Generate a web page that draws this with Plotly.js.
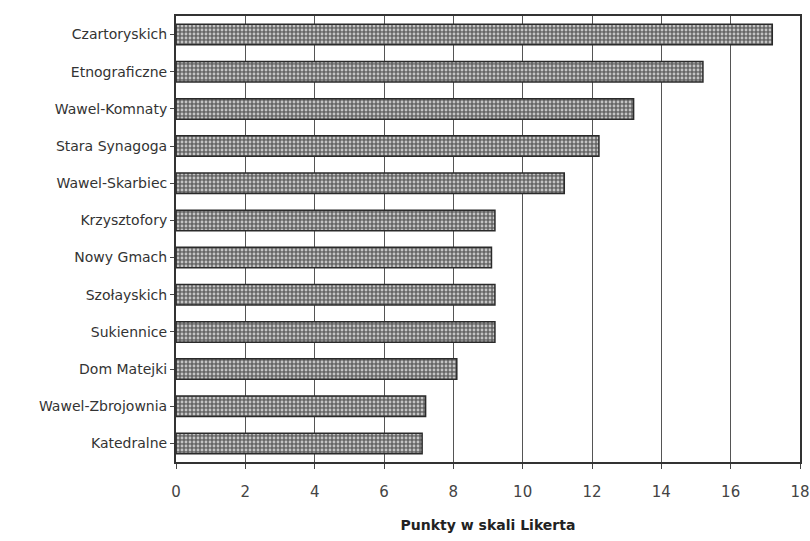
<!DOCTYPE html>
<html>
<head>
<meta charset="utf-8">
<script src="https://cdn.plot.ly/plotly-3.0.1.min.js"></script>
<style>html,body{margin:0;padding:0;background:#fff;}</style>
</head>
<body>
<div id="chart" style="width:810px;height:541px;"></div>
<script>
var categories = ["Czartoryskich","Etnograficzne","Wawel-Komnaty","Stara Synagoga","Wawel-Skarbiec","Krzysztofory","Nowy Gmach","Szołayskich","Sukiennice","Dom Matejki","Wawel-Zbrojownia","Katedralne"];
var values = [17.2, 15.2, 13.2, 12.2, 11.2, 9.2, 9.1, 9.2, 9.2, 8.1, 7.2, 7.1];
var tickVals = [0,2,4,6,8,10,12,14,16,18];

var trace = {
  type: 'bar',
  orientation: 'h',
  y: categories,
  x: values,
  marker: {
    color: '#7a7a7a',
    line: {color: '#2a2a2a', width: 1.5},
    pattern: {shape: '.', fgcolor: '#c4c4c4', bgcolor: '#666666', size: 4, solidity: 0.4}
  },
  hoverinfo: 'none'
};

var layout = {
  width: 810, height: 541,
  margin: {l: 176, r: 10, t: 16, b: 79},
  paper_bgcolor: '#ffffff',
  plot_bgcolor: '#ffffff',
  bargap: 0.45,
  showlegend: false,
  font: {family: 'DejaVu Sans, sans-serif', color: '#333'},
  xaxis: {
    range: [0, 18],
    tickvals: tickVals,
    ticktext: tickVals.map(String),
    tickfont: {size: 15, color: '#444', family: 'DejaVu Sans, sans-serif'},
    ticks: 'outside', ticklen: 5, tickcolor: '#444',
    ticklabelstandoff: 10,
    showgrid: true, gridcolor: '#555', gridwidth: 1,
    showline: true, linecolor: '#333', linewidth: 2, mirror: true,
    zeroline: false,
    title: {text: 'Punkty w skali Likerta', font: {size: 14, color: '#222', family: 'DejaVu Sans, sans-serif', weight: 'bold'}, standoff: 20}
  },
  yaxis: {
    autorange: 'reversed',
    type: 'category',
    tickfont: {size: 14, color: '#333', family: 'DejaVu Sans, sans-serif'},
    ticks: 'outside', ticklen: 4, tickcolor: '#444',
    showline: true, linecolor: '#333', linewidth: 2, mirror: true,
    showgrid: false
  }
};

Plotly.newPlot('chart', [trace], layout, {staticPlot: true, displayModeBar: false});
</script>
</body>
</html>
